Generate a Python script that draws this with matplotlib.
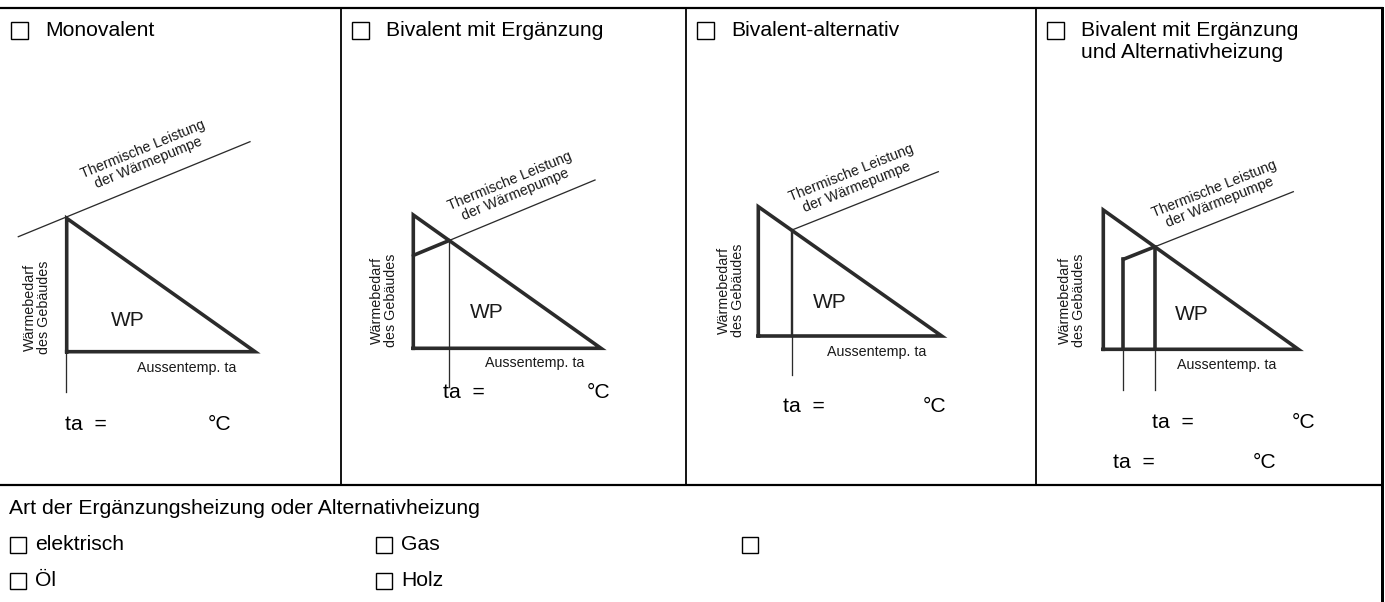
'''
Formular: Betriebsweise der Wärmepumpe (schematische Diagramme).
'''

import matplotlib
matplotlib.use('Agg')
from matplotlib import pyplot as pl
from matplotlib.patches import Rectangle

import numpy as np

W, H = 1385, 602

# Header of each panel
titles = ['Monovalent', 'Bivalent mit Ergänzung', 'Bivalent-alternativ',
          'Bivalent mit Ergänzung\nund Alternativheizung']
modes = ['mono', 'ergaenzung', 'alternativ', 'kombi']

# Heat demand triangle of the building (picture px)
tri_left = [66.7, 413.3, 758.3, 1103.3]
tri_top = [218.3, 215.0, 206.7, 210.0]
tri_base = [351.7, 348.3, 336.0, 349.3]
tri_right = [255.0, 601.0, 941.7, 1298.3]

# Thermal output line of the heat pump (two points read on the line)
pump_x = [(18.3, 250.0), (448.0, 595.0), (792.0, 938.3), (1155.0, 1293.3)]
pump_y = [(236.7, 141.7), (241.0, 180.0), (230.0, 171.7), (246.7, 191.7)]
pump_left = [18.3, 413.3, 792.0, 1123.3]  # where the drawn line starts

# Lower end of the thin guide lines below the temperature axis
guide_end = [392.0, 386.7, 375.0, 390.0]

# Labels inside the diagrams
pump_label = 'Thermische Leistung\nder Wärmepumpe'
pump_label_xy = [(146, 156), (513, 188), (854, 180), (1217, 196)]
demand_label = 'Wärmebedarf\ndes Gebäudes'
demand_label_xy = [(37, 307), (384, 300), (731, 290), (1072, 300)]
wp_xy = [(128, 320), (487, 313), (830, 303), (1192, 315)]
temp_label = 'Aussentemp. ta'
temp_label_xy = [(137, 368), (485, 363), (827, 352), (1177, 365)]

# "ta = ... °C" entry fields
ta_x = [65, 443, 783, 1152, 1113]
degc_x = [208, 587, 923, 1292, 1253]
ta_y = [425, 393, 407, 423, 462]

# Lower part of the form
section_label = 'Art der Ergänzungsheizung oder Alternativheizung'
options = ['elektrisch', 'Gas', '', 'Öl', 'Holz']
option_col = [0, 1, 2, 0, 1]
option_row = [0, 0, 0, 1, 1]
col_x = [10, 376, 742]
row_y = [545, 581]

# Grid of the form
panel_edges = [341, 686, 1036]
top_y = 8
split_y = 485
right_x = 1382

pl.rcParams['font.family'] = ['Liberation Sans', 'DejaVu Sans']


def px(v):
    return v*72/100.


big = px(21)/(72/100.)*0.72  # font size in pt for 21 px text
small = 10.3
dark = '#2b2b2b'

fig = pl.figure(figsize=(W/100., H/100.), dpi=100)
ax = fig.add_axes([0, 0, 1, 1])
ax.set_xlim(0, W)
ax.set_ylim(H, 0)
ax.axis('off')

# Form lines
ax.plot([0, right_x], [top_y, top_y], color='k', lw=px(2.2))
ax.plot([right_x, right_x], [top_y, H], color='k', lw=px(3))
ax.plot([0, right_x], [split_y, split_y], color='k', lw=px(2.2))
for xe in panel_edges:
    ax.plot([xe, xe], [top_y, split_y], color='k', lw=px(1.8))


def checkbox(x, yc, s=17):
    ax.add_patch(Rectangle((x, yc-s/2.), s, s, fill=False, ec='k',
                           lw=px(1.4)))


starts = [0] + panel_edges
for i in range(4):
    bx = starts[i] + 11
    checkbox(bx, 30)
    for j, line in enumerate(titles[i].split('\n')):
        ax.text(bx+34, 30+23*j, line, fontsize=15.2, ha='left',
                va='center')

    l, t, b, r = tri_left[i], tri_top[i], tri_base[i], tri_right[i]

    # Pump line as y = m*x + c
    (x0, x1), (y0, y1) = pump_x[i], pump_y[i]
    m = (y1-y0)/(x1-x0)
    c = y0-m*x0
    # Hypotenuse of the demand triangle
    mh = (b-t)/(r-l)
    ch = t-mh*l
    xb = (ch-c)/(m-mh)  # bivalence point
    yb = m*xb+c

    thick = px(3.6)
    thin = px(1.3)

    # Pump output line
    if modes[i] == 'mono':
        ax.plot([pump_left[i], x1], [m*pump_left[i]+c, y1], color=dark,
                lw=thin)
    else:
        ax.plot([xb, x1], [yb, y1], color=dark, lw=thin)
        if modes[i] in ('ergaenzung', 'kombi'):
            xs = pump_left[i]
            ax.plot([xs, xb], [m*xs+c, yb], color=dark, lw=thick,
                    solid_capstyle='round')

    # Guide lines down to the ta entries
    if modes[i] == 'mono':
        ax.plot([l-0.7, l-0.7], [b, guide_end[i]], color=dark, lw=thin)
    elif modes[i] == 'ergaenzung':
        ax.plot([xb, xb], [yb, guide_end[i]], color=dark, lw=thin)
    elif modes[i] == 'alternativ':
        ax.plot([xb, xb], [yb, b], color=dark, lw=px(2.4))
        ax.plot([xb, xb], [b, guide_end[i]], color=dark, lw=thin)
    else:
        xs = pump_left[i]
        for xv, yv in [(xs, m*xs+c), (xb, yb)]:
            ax.plot([xv, xv], [yv, b], color=dark, lw=thick)
            ax.plot([xv, xv], [b, guide_end[i]], color=dark, lw=thin)

    # Demand triangle
    ax.plot([l, l, r, l], [b, t, b, b], color=dark, lw=thick,
            solid_joinstyle='miter')

    # Texts of the diagram
    ang = np.degrees(np.arctan2(-(y1-y0), x1-x0))
    ax.text(*pump_label_xy[i], pump_label, rotation=ang, fontsize=small,
            ha='center', va='center', rotation_mode='anchor',
            linespacing=1.05, color='#1a1a1a')
    ax.text(*demand_label_xy[i], demand_label, rotation=90,
            fontsize=small, ha='center', va='center', linespacing=1.05,
            color='#1a1a1a')
    ax.text(*wp_xy[i], 'WP', fontsize=15, ha='center', va='center',
            color='#1a1a1a')
    ax.text(*temp_label_xy[i], temp_label, fontsize=small, ha='left',
            va='center', color='#1a1a1a')

for xt, xc, yt in zip(ta_x, degc_x, ta_y):
    ax.text(xt, yt, 'ta  =', fontsize=15.2, ha='left', va='center')
    ax.text(xc, yt, '°C', fontsize=15.2, ha='left', va='center')

# Kind of supplementary / alternative heating
ax.text(9, 508, section_label, fontsize=15.2, ha='left', va='center')
for name, ci, ri in zip(options, option_col, option_row):
    checkbox(col_x[ci], row_y[ri], 16)
    ax.text(col_x[ci]+25, row_y[ri], name, fontsize=15.2, ha='left',
            va='center')

pl.savefig('out.png', dpi=100)
pl.close('all')
